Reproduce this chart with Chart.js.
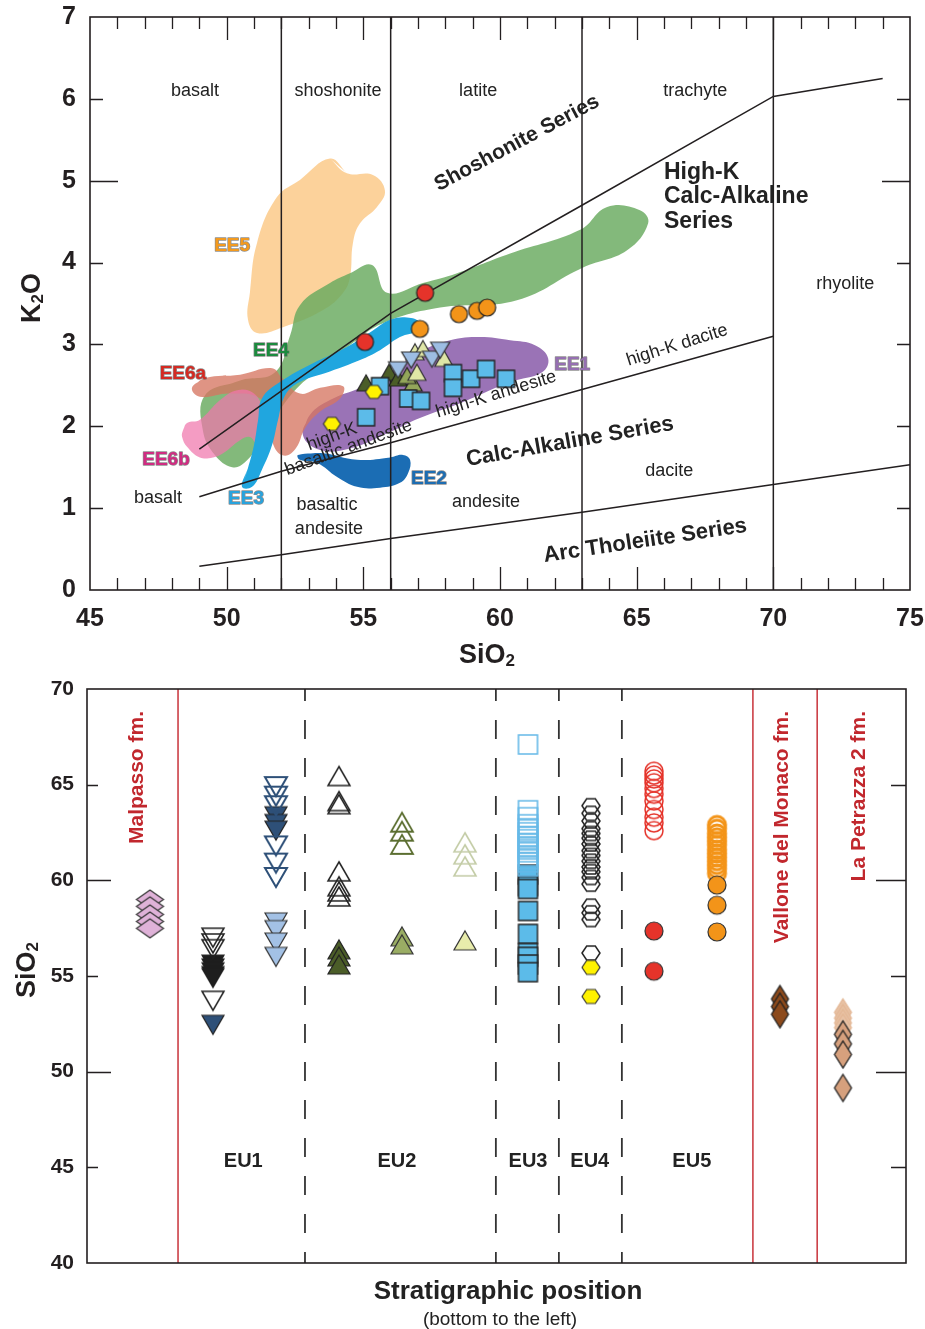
<!DOCTYPE html>
<html>
<head>
<meta charset="utf-8">
<title>K2O–SiO2 classification and SiO2 through the stratigraphy</title>
<script src="https://cdn.jsdelivr.net/npm/chart.js@4.4.1/dist/chart.umd.min.js"></script>
<style>
  html, body { margin: 0; padding: 0; background: #fff; }
  #fig { position: relative; width: 925px; height: 1329px; background: #fff; }
  canvas { position: absolute; left: 0; }
  #k2oChart { top: 0; }
  #stratChart { top: 670px; }
</style>
</head>
<body>
<div id="fig">
  <canvas id="k2oChart" width="925" height="670" style="width:925px;height:670px"></canvas>
  <canvas id="stratChart" width="925" height="659" style="width:925px;height:659px"></canvas>
</div>
<script>
// ---------------- K2O vs SiO2 (wt%) ----------------
const sio2Range = [45, 75];
const k2oRange = [0, 7];

// rock-name dividers and series boundaries
const sio2Dividers = [52, 56, 63, 70];
const shoshoniteLine = [[49, 1.72], [56, 3.38], [63, 4.70], [70, 6.03], [74, 6.25]];
const highKLine = [[49, 1.14], [52, 1.45], [56, 1.80], [63, 2.45], [70, 3.10]];
const lowKLine = [[49, 0.29], [52, 0.43], [56, 0.63], [63, 0.95], [70, 1.29], [75, 1.53]];

// compositional fields of the enclaves
const fieldEE5 = [[53.78, 5.27], [54.40, 5.09], [55.35, 5.07], [55.79, 4.88], [55.50, 4.68], [54.88, 4.48], [54.62, 4.24],
  [54.51, 3.82], [54.26, 3.63], [53.53, 3.42], [52.06, 3.21], [51.11, 3.14], [50.78, 3.30], [50.85, 3.63], [51.11, 4.24],
  [51.84, 4.80], [52.68, 5.01]];
const fieldEE4 = [[49.21, 2.38], [50.49, 2.56], [51.77, 2.66], [52.32, 3.11], [52.68, 3.48], [53.78, 3.75], [54.51, 3.87],
  [55.32, 3.97], [55.87, 3.63], [57.18, 3.75], [58.43, 3.87], [60.37, 4.11], [62.93, 4.40], [63.92, 4.68], [65.12, 4.64],
  [65.42, 4.48], [64.65, 4.15], [63.04, 3.94], [60.62, 3.54], [57.81, 3.45], [55.72, 3.26], [54.62, 3.02], [53.53, 2.72],
  [52.68, 2.50], [51.95, 2.20], [51.29, 1.83], [50.67, 1.56], [50.20, 1.50], [49.57, 1.65], [49.13, 1.95]];
const fieldEE1 = [[52.79, 1.89], [53.05, 2.14], [53.78, 2.32], [54.88, 2.47], [55.98, 2.66], [57.07, 2.91], [58.17, 3.05],
  [59.27, 3.09], [60.37, 3.05], [61.28, 2.99], [61.76, 2.83], [61.54, 2.66], [60.37, 2.54], [58.54, 2.28], [57.07, 2.10],
  [55.98, 1.93], [54.51, 1.73], [53.42, 1.71]];
const fieldEE6a = [[48.73, 2.47], [49.21, 2.59], [50.49, 2.63], [51.66, 2.71], [52.03, 2.59], [52.68, 2.40], [53.42, 2.47],
  [54.26, 2.49], [54.15, 2.34], [53.42, 2.18], [52.87, 1.98], [52.55, 1.74], [52.14, 1.64], [51.75, 1.74], [51.55, 2.08],
  [51.22, 2.34], [50.12, 2.40], [49.02, 2.36]];
const fieldEE6b = [[48.40, 1.95], [48.55, 2.04], [49.02, 2.08], [49.76, 2.32], [50.38, 2.44], [50.96, 2.41], [51.33, 2.23],
  [51.51, 2.04], [51.40, 1.87], [51.11, 1.79], [50.85, 1.87], [50.49, 1.83], [49.87, 1.67], [49.50, 1.62], [49.02, 1.62],
  [48.55, 1.75], [48.37, 1.87]];
const fieldEE3 = [[50.56, 1.26], [50.78, 1.49], [51.00, 1.77], [51.15, 2.08], [51.29, 2.34], [51.95, 2.54], [53.16, 2.77],
  [54.40, 2.97], [55.35, 3.17], [55.98, 3.30], [56.60, 3.33], [57.07, 3.27], [57.00, 3.17], [56.34, 3.09], [55.61, 2.93],
  [54.88, 2.81], [53.78, 2.67], [52.68, 2.54], [52.14, 2.38], [51.88, 2.08], [51.66, 1.77], [51.29, 1.47], [50.93, 1.26]];
const fieldEE2 = [[52.61, 1.65], [53.53, 1.67], [54.77, 1.59], [55.98, 1.62], [56.45, 1.65], [56.71, 1.59], [56.64, 1.43],
  [56.34, 1.31], [55.61, 1.25], [54.77, 1.26], [54.04, 1.38], [53.31, 1.55], [52.68, 1.59]];

// samples (SiO2, K2O)
const eu2DarkTri = [[55.10, 2.53], [55.94, 2.66], [56.27, 2.59]];
const eu2OliveTri = [[56.82, 2.53], [56.60, 2.62]];
const eu2PaleTri = [[56.89, 2.91], [57.18, 2.95], [56.96, 2.66], [57.95, 2.83]];
const eu1BlueInvTri = [[56.27, 2.69], [56.75, 2.81], [57.51, 2.82], [57.81, 2.93]];
const eu3Squares = [[55.61, 2.49], [56.64, 2.34], [57.11, 2.31], [55.10, 2.11], [58.28, 2.65], [58.28, 2.47],
  [58.94, 2.58], [59.49, 2.70], [60.22, 2.58]];
const eu4Hexagons = [[53.85, 2.03], [55.39, 2.42]];
const eu5RedCircles = [[55.06, 3.03], [57.26, 3.63]];
const eu5OrangeCircles = [[57.07, 3.19], [58.50, 3.37], [59.16, 3.41], [59.53, 3.45]];

// ---------------- SiO2 through the stratigraphy ----------------
const siO2Range = [40, 70];
const stratRange = [0, 13];
const formationBounds = [1.445, 10.57, 11.59];
const unitBounds = [3.46, 6.49, 7.49, 8.49];

// column positions (bottom of the sequence to the left)
const posMalpasso = 1, posEU1a = 2, posEU1b = 3, posEU2a = 4, posEU2b = 5, posEU2c = 6;
const posEU3 = 7, posEU4 = 8, posEU5a = 9, posEU5b = 10, posVallone = 11, posPetrazza = 12;

const malpassoSiO2 = [59.0, 58.64, 58.22, 57.85, 57.49];
const eu1aOpen = [57.0, 56.7, 56.4, 53.7];
const eu1aBlack = [55.6, 55.4, 55.2, 55.0, 54.9];
const eu1aNavy = [52.45];
const eu1bNavyOpen = [64.9, 64.4, 63.9, 61.8, 60.9, 60.15];
const eu1bNavy = [63.35, 62.95, 62.6];
const eu1bPaleBlue = [57.8, 57.4, 56.75, 56.0];
const eu2aOpen = [65.45, 64.14, 63.98, 60.47, 59.69, 59.42, 59.16];
const eu2aDark = [56.39, 56.02, 55.6];
const eu2bOpen = [63.04, 62.57, 61.88];
const eu2bOlive = [57.07, 56.65];
const eu2cOpen = [61.99, 61.36, 60.73];
const eu2cPale = [56.86];
const eu3Open = [67.1, 63.66, 63.3, 62.93, 62.72, 62.51, 62.3, 62.15, 61.94, 61.78, 61.62, 61.47, 61.26, 61.1, 60.94, 60.73];
const eu3Filled = [60.3, 59.7, 59.55, 58.4, 57.2, 56.2, 56.0, 55.6, 55.2];
const eu4Open = [63.9, 63.5, 63.1, 62.7, 62.45, 62.2, 61.9, 61.55, 61.3, 61.0, 60.7, 60.45, 60.15, 59.8, 58.65, 58.3, 57.95, 56.2];
const eu4Yellow = [55.45, 53.93];
const eu5RedOpen = [65.7, 65.5, 65.3, 65.1, 64.8, 64.5, 64.15, 63.7, 63.3, 63.0, 62.6];
const eu5Red = [57.35, 55.25];
const eu5OrangeOpen = [62.9, 62.7, 62.45, 62.25, 62.05, 61.85, 61.6, 61.4, 61.2, 61.0, 60.8, 60.6, 60.35];
const eu5Orange = [59.75, 58.7, 57.3];
const valloneSiO2 = [53.8, 53.4, 53.0];
const petrazzaPale = [53.1, 52.8, 52.55, 52.3];
const petrazzaSiO2 = [51.95, 51.45, 50.9, 49.15];

// ---------------- helpers ----------------
const INK = '#231f20';
const SANS = "'Liberation Sans', Arial, Helvetica, sans-serif";
const NARROW = "'Liberation Sans Narrow', 'Liberation Sans', Arial, sans-serif";
const RED_TXT = '#c1272d';

const xy = arr => arr.map(([x, y]) => ({ x, y }));
const column = (x, vals) => vals.map(y => ({ x, y }));

// small canvas glyphs used as point styles
function glyph(shape, w, h, fill, stroke, lw) {
  const pad = Math.ceil(lw || 0) + 1;
  const c = document.createElement('canvas');
  c.width = w + 2 * pad; c.height = h + 2 * pad;
  const g = c.getContext('2d');
  g.translate(pad, pad);
  g.beginPath();
  if (shape === 'tri') { g.moveTo(w / 2, 0); g.lineTo(w, h); g.lineTo(0, h); }
  else if (shape === 'inv') { g.moveTo(0, 0); g.lineTo(w, 0); g.lineTo(w / 2, h); }
  else if (shape === 'hex') { g.moveTo(0, h / 2); g.lineTo(w * 0.26, 0); g.lineTo(w * 0.74, 0); g.lineTo(w, h / 2); g.lineTo(w * 0.74, h); g.lineTo(w * 0.26, h); }
  else if (shape === 'dia') { g.moveTo(w / 2, 0); g.lineTo(w, h / 2); g.lineTo(w / 2, h); g.lineTo(0, h / 2); }
  else if (shape === 'sq') { g.rect(0, 0, w, h); }
  else if (shape === 'circ') { g.arc(w / 2, h / 2, w / 2, 0, Math.PI * 2); }
  g.closePath();
  if (fill) { g.fillStyle = fill; g.fill(); }
  if (stroke) { g.lineWidth = lw; g.strokeStyle = stroke; g.lineJoin = 'miter'; g.stroke(); }
  return c;
}

function field(points, color) {
  return { type: 'line', data: xy(points.concat([points[0], points[1]])), fill: 'shape', backgroundColor: color,
    borderColor: 'rgba(0,0,0,0)', borderWidth: 0, pointRadius: 0, tension: 0.42 };
}
function polyline(points, width, color, dash, dashOffset) {
  return { type: 'line', data: xy(points), fill: false, borderColor: color || INK, borderWidth: width || 1.5,
    borderDash: dash || [], borderDashOffset: dashOffset || 0, pointRadius: 0, tension: 0 };
}
function samples(points, style) {
  return { type: 'scatter', data: points, pointStyle: style, pointRadius: 5, showLine: false };
}
// keep the plot area fixed: no extra room for overhanging end labels
function noOverhang(s) {
  s.paddingTop = 0; s.paddingBottom = 0; s.paddingLeft = 0; s.paddingRight = 0;
}

function drawText(ctx, text, px, py, o) {
  ctx.save();
  ctx.translate(px, py);
  if (o.angle) ctx.rotate(o.angle * Math.PI / 180);
  ctx.font = o.font;
  ctx.textAlign = o.align || 'center';
  ctx.textBaseline = o.baseline || 'middle';
  if (o.halo) {
    ctx.lineWidth = o.haloWidth || 2; ctx.strokeStyle = o.halo; ctx.lineJoin = 'round';
    ctx.strokeText(text, 0, 0);
  }
  ctx.fillStyle = o.color || INK;
  ctx.fillText(text, 0, 0);
  ctx.restore();
}
// title with a subscript digit, centred on (cx, baseline)
function drawSubTitle(ctx, parts, cx, cy, angle) {
  ctx.save();
  ctx.translate(cx, cy);
  if (angle) ctx.rotate(angle * Math.PI / 180);
  ctx.fillStyle = INK; ctx.textBaseline = 'alphabetic'; ctx.textAlign = 'left';
  let total = 0;
  parts.forEach(p => { ctx.font = `bold ${p.size}px ${SANS}`; p.w = ctx.measureText(p.t).width; total += p.w; });
  let x = -total / 2;
  parts.forEach(p => { ctx.font = `bold ${p.size}px ${SANS}`; ctx.fillText(p.t, x, p.dy || 0); x += p.w; });
  ctx.restore();
}

// ---------------- top chart ----------------
const topGlyphs = {
  darkTri: glyph('tri', 18, 16, '#4b5d28', '#222', 1.2),
  oliveTri: glyph('tri', 18, 16, '#93a65a', '#222', 1.2),
  paleTri: glyph('tri', 18, 16, '#dfe6a6', '#333', 1.2),
  blueInv: glyph('inv', 19, 16, '#9dbde3', '#333', 1.2),
  square: glyph('sq', 17, 17, '#5cbbe9', '#222', 1.4),
  hex: glyph('hex', 17, 13, '#fff200', '#333', 1.2),
  red: glyph('circ', 17, 17, '#e5332a', '#222', 1.2),
  orange: glyph('circ', 17, 17, '#f39419', '#222', 1.2)
};

const k2oDatasets = [
  field(fieldEE5, 'rgba(252,208,150,0.95)'),
  field(fieldEE4, 'rgba(104,170,94,0.82)'),
  field(fieldEE1, '#9a73b6'),
  field(fieldEE6a, 'rgba(214,118,98,0.78)'),
  field(fieldEE6b, 'rgba(240,118,172,0.72)'),
  field(fieldEE3, '#20a6df'),
  field(fieldEE2, '#1b6db4'),
  ...sio2Dividers.map(v => polyline([[v, k2oRange[0]], [v, k2oRange[1]]], 1.5)),
  polyline(shoshoniteLine, 1.5),
  polyline(highKLine, 1.5),
  polyline(lowKLine, 1.5),
  samples(xy(eu2DarkTri), topGlyphs.darkTri),
  samples(xy(eu2OliveTri), topGlyphs.oliveTri),
  samples(xy(eu2PaleTri), topGlyphs.paleTri),
  samples(xy(eu1BlueInvTri), topGlyphs.blueInv),
  samples(xy(eu3Squares), topGlyphs.square),
  samples(xy(eu4Hexagons), topGlyphs.hex),
  samples(xy(eu5RedCircles), topGlyphs.red),
  samples(xy(eu5OrangeCircles), topGlyphs.orange)
];
// later entries are drawn on top
k2oDatasets.forEach((d, i) => { d.order = -i; });

const rockNames = [
  ['basalt', 48.84, 6.10, 0], ['shoshonite', 54.07, 6.10, 0], ['latite', 59.2, 6.10, 0], ['trachyte', 67.14, 6.10, 0],
  ['rhyolite', 72.63, 3.74, 0], ['high-K dacite', 66.48, 2.99, -17.5], ['high-K andesite', 59.86, 2.39, -17],
  ['high-K', 53.85, 1.87, -20], ['basaltic andesite', 54.46, 1.74, -20],
  ['dacite', 66.19, 1.45, 0], ['andesite', 59.49, 1.07, 0], ['basaltic', 53.67, 1.04, 0], ['andesite', 53.74, 0.745, 0],
  ['basalt', 47.49, 1.12, 0]
];
const seriesNames = [
  ['Shoshonite Series', 60.62, 5.46, -28, 21],
  ['Calc-Alkaline Series', 62.56, 1.81, -10, 22],
  ['Arc Tholeiite Series', 65.31, 0.60, -8.5, 22]
];
const highKSeries = [['High-K', 5.10], ['Calc-Alkaline', 4.81], ['Series', 4.505]];
const fieldNames = [
  ['EE5', 50.20, 4.20, '#f39a1e'], ['EE4', 51.62, 2.92, '#1b8a3e'], ['EE6a', 48.40, 2.64, '#d42a22'],
  ['EE6b', 47.78, 1.59, '#d02c82'], ['EE3', 50.71, 1.12, '#29a3dd'], ['EE2', 57.40, 1.36, '#1d6db2'],
  ['EE1', 62.64, 2.75, '#956fb1']
];

const k2oFrame = {
  id: 'k2oFrame',
  afterDatasetsDraw(chart) {
    const { ctx, chartArea: a, scales: { x, y } } = chart;
    ctx.save();
    ctx.strokeStyle = INK; ctx.lineWidth = 1.3;
    ctx.beginPath();
    for (let v = sio2Range[0] + 1; v < sio2Range[1]; v++) {
      const px = Math.round(x.getPixelForValue(v)) + 0.5;
      const len = v % 5 === 0 ? 23 : 12;
      ctx.moveTo(px, a.bottom); ctx.lineTo(px, a.bottom - len);
      ctx.moveTo(px, a.top); ctx.lineTo(px, a.top + len);
    }
    for (let v = k2oRange[0] + 1; v < k2oRange[1]; v++) {
      const py = Math.round(y.getPixelForValue(v)) + 0.5;
      const len = v % 5 === 0 ? 28 : 13;
      ctx.moveTo(a.left, py); ctx.lineTo(a.left + len, py);
      ctx.moveTo(a.right, py); ctx.lineTo(a.right - len, py);
    }
    ctx.stroke();
    ctx.lineWidth = 1.6;
    ctx.strokeRect(a.left, a.top, a.right - a.left, a.bottom - a.top);
    ctx.restore();
  }
};

const k2oNotes = {
  id: 'k2oNotes',
  afterDraw(chart) {
    const { ctx, scales: { x, y } } = chart;
    rockNames.forEach(([t, sx, ky, ang]) =>
      drawText(ctx, t, x.getPixelForValue(sx), y.getPixelForValue(ky), { font: `18px ${SANS}`, angle: ang, color: '#222' }));
    seriesNames.forEach(([t, sx, ky, ang, size]) =>
      drawText(ctx, t, x.getPixelForValue(sx), y.getPixelForValue(ky), { font: `bold ${size}px ${SANS}`, angle: ang, color: '#222' }));
    highKSeries.forEach(([t, ky]) =>
      drawText(ctx, t, x.getPixelForValue(66.0), y.getPixelForValue(ky), { font: `bold 23px ${SANS}`, align: 'left', color: '#222' }));
    fieldNames.forEach(([t, sx, ky, col]) =>
      drawText(ctx, t, x.getPixelForValue(sx), y.getPixelForValue(ky),
        { font: `bold 19px ${SANS}`, color: col, halo: 'rgba(95,95,95,0.7)', haloWidth: 1.4 }));
    // axis titles
    drawSubTitle(ctx, [{ t: 'SiO', size: 27 }, { t: '2', size: 17, dy: 3 }], 487, 663, 0);
    drawSubTitle(ctx, [{ t: 'K', size: 27 }, { t: '2', size: 17, dy: 3 }, { t: 'O', size: 27 }], 40, 298, -90);
  }
};

const tickFontTop = { family: NARROW, size: 25, weight: 'bold' };
new Chart(document.getElementById('k2oChart'), {
  type: 'scatter',
  data: { datasets: k2oDatasets },
  options: {
    responsive: false, animation: false, events: [],
    layout: { padding: { top: 17, right: 15, bottom: 0, left: 0 } },
    plugins: { legend: { display: false }, tooltip: { enabled: false } },
    scales: {
      x: { type: 'linear', min: sio2Range[0], max: sio2Range[1], afterFit: s => { s.height = 80; noOverhang(s); },
        ticks: { stepSize: 5, padding: 14, color: INK, font: tickFontTop },
        grid: { display: false, drawTicks: false }, border: { display: false } },
      y: { type: 'linear', min: k2oRange[0], max: k2oRange[1], afterFit: s => { s.width = 90; noOverhang(s); },
        ticks: { stepSize: 1, padding: 14, color: INK, font: tickFontTop },
        grid: { display: false, drawTicks: false }, border: { display: false } }
    }
  },
  plugins: [k2oFrame, k2oNotes]
});

// ---------------- bottom chart ----------------
const botGlyphs = {
  pinkDia: glyph('dia', 27, 19, '#dfb2d8', '#333', 1.2),
  invOpen: glyph('inv', 22, 19, null, '#222', 1.5),
  invBlack: glyph('inv', 22, 19, '#1e1e1e', '#1e1e1e', 1.2),
  invNavy: glyph('inv', 22, 19, '#2e5078', '#222', 1.2),
  invNavyOpen: glyph('inv', 22, 19, null, '#2e5078', 2),
  invPaleBlue: glyph('inv', 22, 19, '#a3c1e5', '#333', 1.2),
  triOpen: glyph('tri', 22, 19, null, '#222', 1.5),
  triDark: glyph('tri', 22, 19, '#4b5d28', '#222', 1.2),
  triOliveOpen: glyph('tri', 22, 19, null, '#5b6e30', 1.8),
  triOlive: glyph('tri', 22, 19, '#9aad64', '#333', 1.2),
  triPaleOpen: glyph('tri', 22, 19, null, '#c3cca6', 1.6),
  triPale: glyph('tri', 22, 19, '#e8ecab', '#333', 1.2),
  sqOpen: glyph('sq', 19, 19, null, '#66b9e8', 1.6),
  sqBlue: glyph('sq', 19, 19, '#5cbbe9', '#222', 1.4),
  hexOpen: glyph('hex', 18, 14, null, '#222', 1.5),
  hexYellow: glyph('hex', 18, 14, '#fff200', '#333', 1.2),
  redOpen: glyph('circ', 18, 18, null, '#e5332a', 1.5),
  red: glyph('circ', 18, 18, '#e5332a', '#333', 1.2),
  orangeOpen: glyph('circ', 17, 17, null, '#f39419', 3),
  orange: glyph('circ', 18, 18, '#f39419', '#333', 1.2),
  brownDia: glyph('dia', 17, 27, '#8c4a1c', '#222', 1.3),
  tanPaleDia: glyph('dia', 17, 27, '#e8c2a5', '#e2b592', 1.2),
  tanDia: glyph('dia', 17, 27, '#d6a07d', '#222', 1.3)
};

const stratDatasets = [
  ...formationBounds.map(v => polyline([[v, siO2Range[0]], [v, siO2Range[1]]], 1.5, '#c8323a')),
  ...unitBounds.map(v => polyline([[v, siO2Range[0]], [v, siO2Range[1]]], 1.8, '#333', [19, 19], 8)),
  samples(column(posMalpasso, malpassoSiO2), botGlyphs.pinkDia),
  samples(column(posEU1a, eu1aBlack), botGlyphs.invBlack),
  samples(column(posEU1a, eu1aOpen), botGlyphs.invOpen),
  samples(column(posEU1a, eu1aNavy), botGlyphs.invNavy),
  samples(column(posEU1b, eu1bNavy), botGlyphs.invNavy),
  samples(column(posEU1b, eu1bNavyOpen), botGlyphs.invNavyOpen),
  samples(column(posEU1b, eu1bPaleBlue), botGlyphs.invPaleBlue),
  samples(column(posEU2a, eu2aOpen), botGlyphs.triOpen),
  samples(column(posEU2a, eu2aDark), botGlyphs.triDark),
  samples(column(posEU2b, eu2bOpen), botGlyphs.triOliveOpen),
  samples(column(posEU2b, eu2bOlive), botGlyphs.triOlive),
  samples(column(posEU2c, eu2cOpen), botGlyphs.triPaleOpen),
  samples(column(posEU2c, eu2cPale), botGlyphs.triPale),
  samples(column(posEU3, eu3Filled), botGlyphs.sqBlue),
  samples(column(posEU3, eu3Open), botGlyphs.sqOpen),
  samples(column(posEU4, eu4Open), botGlyphs.hexOpen),
  samples(column(posEU4, eu4Yellow), botGlyphs.hexYellow),
  samples(column(posEU5a, eu5RedOpen), botGlyphs.redOpen),
  samples(column(posEU5a, eu5Red), botGlyphs.red),
  samples(column(posEU5b, eu5OrangeOpen), botGlyphs.orangeOpen),
  samples(column(posEU5b, eu5Orange), botGlyphs.orange),
  samples(column(posVallone, valloneSiO2), botGlyphs.brownDia),
  samples(column(posPetrazza, petrazzaPale), botGlyphs.tanPaleDia),
  samples(column(posPetrazza, petrazzaSiO2), botGlyphs.tanDia)
];
stratDatasets.forEach((d, i) => { d.order = -i; });

const unitNames = [['EU1', 2.48], ['EU2', 4.92], ['EU3', 7.0], ['EU4', 7.98], ['EU5', 9.6]];
const formationNames = [['Malpasso fm.', 0.79], ['Vallone del Monaco fm.', 11.03], ['La Petrazza 2 fm.', 12.25]];

const stratFrame = {
  id: 'stratFrame',
  afterDatasetsDraw(chart) {
    const { ctx, chartArea: a, scales: { y } } = chart;
    ctx.save();
    ctx.strokeStyle = INK; ctx.lineWidth = 1.3;
    ctx.beginPath();
    for (let v = siO2Range[0] + 5; v < siO2Range[1]; v += 5) {
      const py = Math.round(y.getPixelForValue(v)) + 0.5;
      const major = v % 10 === 0;
      ctx.moveTo(a.left, py); ctx.lineTo(a.left + (major ? 24 : 11), py);
      ctx.moveTo(a.right, py); ctx.lineTo(a.right - (major ? 30 : 15), py);
    }
    ctx.stroke();
    ctx.lineWidth = 1.6;
    ctx.strokeRect(a.left, a.top, a.right - a.left, a.bottom - a.top);
    ctx.restore();
  },
  afterDraw(chart) {
    const { ctx, scales: { x, y } } = chart;
    unitNames.forEach(([t, p]) =>
      drawText(ctx, t, x.getPixelForValue(p), y.getPixelForValue(45.3), { font: `bold 20px ${SANS}`, color: '#222' }));
    formationNames.forEach(([t, p]) =>
      drawText(ctx, t, x.getPixelForValue(p), y.getPixelForValue(68.85),
        { font: `bold 21px ${SANS}`, color: RED_TXT, angle: -90, align: 'right' }));
    drawText(ctx, 'Stratigraphic position', 508, 622, { font: `bold 26px ${SANS}`, color: '#222' });
    drawText(ctx, '(bottom to the left)', 500, 650, { font: `19px ${SANS}`, color: '#222' });
    drawSubTitle(ctx, [{ t: 'SiO', size: 27 }, { t: '2', size: 17, dy: 3 }], 35, 300, -90);
  }
};

new Chart(document.getElementById('stratChart'), {
  type: 'scatter',
  data: { datasets: stratDatasets },
  options: {
    responsive: false, animation: false, events: [],
    layout: { padding: { top: 19, right: 19, bottom: 66, left: 0 } },
    plugins: { legend: { display: false }, tooltip: { enabled: false } },
    scales: {
      x: { type: 'linear', min: stratRange[0], max: stratRange[1], display: false },
      y: { type: 'linear', min: siO2Range[0], max: siO2Range[1], afterFit: s => { s.width = 87; noOverhang(s); },
        ticks: { stepSize: 5, padding: 13, color: INK, font: { family: SANS, size: 21, weight: 'bold' } },
        grid: { display: false, drawTicks: false }, border: { display: false } }
    }
  },
  plugins: [stratFrame]
});
</script>
</body>
</html>
